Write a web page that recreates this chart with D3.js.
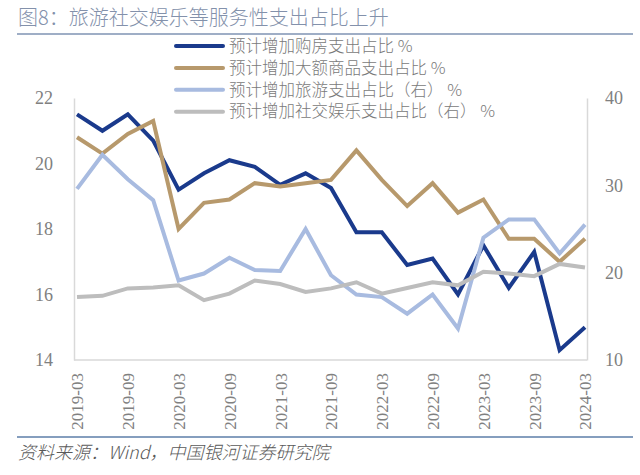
<!DOCTYPE html>
<html><head><meta charset="utf-8">
<script src="https://cdn.jsdelivr.net/npm/d3@7"></script>
<style>
html,body{margin:0;padding:0;background:#fff;}
svg{display:block;}
</style></head>
<body>
<svg id="chart" width="640" height="475"></svg>
<script>
const quarters = ["2019-03","2019-06","2019-09","2019-12","2020-03","2020-06","2020-09","2020-12",
  "2021-03","2021-06","2021-09","2021-12","2022-03","2022-06","2022-09","2022-12",
  "2023-03","2023-06","2023-09","2023-12","2024-03"];
const tickLabels = ["2019-03","2019-09","2020-03","2020-09","2021-03","2021-09","2022-03","2022-09","2023-03","2023-09","2024-03"];
const leftTicks = [14,16,18,20,22];
const rightTicks = [10,20,30,40];
const housing = [21.5,21.0,21.5,20.7,19.2,19.7,20.1,19.9,19.35,19.7,19.25,17.9,17.9,16.9,17.1,16.0,17.5,16.2,17.3,14.3,15.0];
const bigGoods = [20.8,20.3,20.9,21.3,18.0,18.8,18.9,19.4,19.3,19.4,19.5,20.4,19.5,18.7,19.4,18.5,18.9,17.7,17.7,17.0,17.7];
const travel = [29.6,33.5,30.7,28.3,19.1,19.9,21.7,20.3,20.2,25.0,19.7,17.5,17.2,15.3,17.5,13.6,24.0,26.1,26.1,22.2,25.5];
const social = [17.2,17.35,18.2,18.3,18.55,16.85,17.6,19.1,18.7,17.8,18.2,18.9,17.6,18.25,18.9,18.55,20.1,19.9,19.6,21.0,20.6];
const seriesNames = ["预计增加购房支出占比 %","预计增加大额商品支出占比 %","预计增加旅游支出占比（右） %","预计增加社交娱乐支出占比（右） %"];

const svg = d3.select("#chart");
const serif = "'Liberation Serif','DejaVu Serif',serif";
const cjk = "'Noto Sans CJK SC','Noto Sans',sans-serif";

const L = 74, R = 587, T = 98, B = 360;
const x = d3.scalePoint().domain(quarters).range([77, 585]);
const yL = d3.scaleLinear().domain([14,22]).range([B, T]);
const yR = d3.scaleLinear().domain([10,40]).range([B, T]);

// title
svg.append("text").attr("x",18).attr("y",25).attr("fill","#8391ab")
  .style("font-family",cjk).style("font-size","20px").style("font-weight","300")
  .text("图8：旅游社交娱乐等服务性支出占比上升");
svg.append("line").attr("x1",17).attr("x2",633).attr("y1",34).attr("y2",34)
  .attr("stroke","#7f93b3").attr("stroke-width",1.5);

// axes
const gx = svg.append("g").attr("transform",`translate(0,${B})`)
  .call(d3.axisBottom(x).tickValues(tickLabels).tickSize(0).tickPadding(0));
gx.select(".domain").attr("stroke","#d9d9d9").attr("stroke-width",1.5).attr("d",`M${L},0H${R}`);
gx.selectAll("text").attr("transform","rotate(-90)").attr("text-anchor","end")
  .attr("x",-13).attr("y",0).attr("dy","0.35em").attr("fill","#808080")
  .style("font-family",serif).style("font-size","17px");

const gl = svg.append("g").attr("transform",`translate(${L},0)`)
  .call(d3.axisLeft(yL).tickValues(leftTicks).tickSize(0).tickPadding(21).tickFormat(d3.format("d")));
gl.select(".domain").attr("stroke","#d9d9d9").attr("stroke-width",1.5);
gl.selectAll("text").attr("fill","#808080").style("font-family",serif).style("font-size","18px");

const gr = svg.append("g").attr("transform",`translate(${R},0)`)
  .call(d3.axisRight(yR).tickValues(rightTicks).tickSize(0).tickPadding(18).tickFormat(d3.format("d")));
gr.select(".domain").attr("stroke","#d9d9d9").attr("stroke-width",1.5);
gr.selectAll("text").attr("fill","#808080").style("font-family",serif).style("font-size","18px");

// lines
const series = [
  {vals: housing, y: yL, color: "#1a3a8c"},
  {vals: bigGoods, y: yL, color: "#b7996c"},
  {vals: travel, y: yR, color: "#a8bbe0"},
  {vals: social, y: yR, color: "#bdbdbd"}
];
series.forEach(s => {
  const line = d3.line().x((d,i)=>x(quarters[i])).y(d=>s.y(d));
  svg.append("path").datum(s.vals).attr("d",line).attr("fill","none")
    .attr("stroke",s.color).attr("stroke-width",4).attr("stroke-linejoin","miter");
});

// legend
const lg = svg.append("g");
seriesNames.forEach((n,i) => {
  const yy = 46 + i*21.9;
  lg.append("line").attr("x1",176).attr("x2",223).attr("y1",yy).attr("y2",yy)
    .attr("stroke",series[i].color).attr("stroke-width",4).attr("stroke-linecap","round");
  lg.append("text").attr("x",229).attr("y",yy).attr("dy","0.35em").attr("fill","#7a7a7a")
    .style("font-family",cjk).style("font-size","16.5px").style("font-weight","300").text(n);
});

// source
svg.append("line").attr("x1",17).attr("x2",633).attr("y1",437).attr("y2",437)
  .attr("stroke","#5d7ea8").attr("stroke-width",1.5);
svg.append("text").attr("x",18).attr("y",459).attr("fill","#595959")
  .style("font-family",cjk).style("font-size","18px").style("font-style","italic").style("font-weight","300")
  .text("资料来源：Wind，中国银河证券研究院");
</script>
</body></html>
